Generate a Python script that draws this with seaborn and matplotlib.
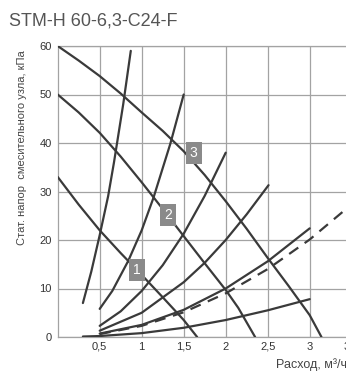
import matplotlib
matplotlib.use("Agg")
import matplotlib.pyplot as plt
import seaborn as sns

# ---- data ----
title = "STM-H 60-6,3-C24-F"
y_label = "Стат. напор  смесительного узла, кПа"
x_label = "Расход, м³/ч"

x_ticks = [0.5, 1.0, 1.5, 2.0, 2.5, 3.0, 3.5]
x_tick_labels = ["0,5", "1", "1,5", "2", "2,5", "3", "3,5"]
y_ticks = [0, 10, 20, 30, 40, 50, 60]

# pump curves (decreasing)
pump1_x = [0, 0.25, 0.5, 0.75, 1.0, 1.25, 1.5, 1.66]
pump1_y = [33, 27.3, 22, 17.3, 12.8, 8.2, 3.5, 0]
pump2_x = [0, 0.25, 0.5, 0.75, 1.0, 1.25, 1.5, 1.75, 2.0, 2.15, 2.35]
pump2_y = [50, 46.3, 42.1, 37.2, 31.9, 26.4, 20.8, 15.2, 9.7, 6.0, 0]
pump3_x = [0, 0.25, 0.5, 0.75, 1.0, 1.25, 1.5, 1.75, 2.0, 2.25, 2.5, 2.75, 3.0, 3.14]
pump3_y = [60, 57.0, 53.8, 50.2, 46.3, 42.5, 38.3, 33.4, 28.0, 22.3, 16.3, 10.5, 4.5, 0]

# system resistance curves (increasing)
sysA_x = [0.3, 0.4, 0.5, 0.6, 0.67, 0.78, 0.87]
sysA_y = [7, 13.5, 21.0, 29.0, 36.0, 48.0, 59]
sysB_x = [0.5, 0.65, 0.84, 1.0, 1.14, 1.34, 1.5]
sysB_y = [5.8, 9.5, 15.7, 22.0, 28.7, 39.8, 50]
sysC_x = [0.5, 0.75, 1.0, 1.25, 1.5, 1.75, 2.0]
sysC_y = [2.3, 5.3, 9.5, 14.8, 21.3, 29.1, 38]
sysD_x = [0.5, 1.0, 1.5, 1.75, 2.0, 2.25, 2.51]
sysD_y = [1.3, 5.0, 11.3, 15.3, 20.0, 25.3, 31.3]
sysE_x = [0.5, 1.0, 1.5, 2.0, 2.5, 3.0]
sysE_y = [0.7, 2.5, 5.6, 10.0, 15.6, 22.4]
sysF_x = [0.3, 0.5, 1.0, 1.5, 2.0, 2.5, 3.0]
sysF_y = [0.1, 0.2, 0.8, 1.9, 3.5, 5.5, 7.8]
dash_x = [0.5, 1.0, 1.5, 2.0, 2.5, 3.0, 3.42, 3.5]
dash_y = [0.6, 2.3, 5.1, 9.0, 14.0, 20.1, 26.2, 27.4]

labels = ["1", "2", "3"]
label_x = [0.94, 1.31, 1.62]
label_y = [13.8, 25.2, 38.0]

# ---- drawing ----
sns.set_theme(style="white")
plt.rcParams["font.family"] = ["Liberation Sans", "DejaVu Sans"]

W, H = 346, 372
fig = plt.figure(figsize=(W / 100, H / 100), dpi=100)
ax = fig.add_axes([57.7 / W, 1 - 337 / H, 294 / W, 291 / H])

line_col = "#3a3a3a"
grid_col = "#a3a3a3"
lw = 1.6

solid = [
    (pump1_x, pump1_y), (pump2_x, pump2_y), (pump3_x, pump3_y),
    (sysA_x, sysA_y), (sysB_x, sysB_y), (sysC_x, sysC_y),
    (sysD_x, sysD_y), (sysE_x, sysE_y), (sysF_x, sysF_y),
]
for xs, ys in solid:
    sns.lineplot(x=xs, y=ys, ax=ax, color=line_col, linewidth=lw,
                 sort=False, estimator=None, zorder=3)
sns.lineplot(x=dash_x, y=dash_y, ax=ax, color=line_col, linewidth=lw,
             sort=False, estimator=None, zorder=3)
ax.lines[-1].set_dashes((5, 3.5))

for t, lx, ly in zip(labels, label_x, label_y):
    ax.text(lx, ly, t, ha="center", va="center", color="white", fontsize=10,
            zorder=5,
            bbox=dict(boxstyle="square,pad=0.3", facecolor="#8a8a8a",
                      edgecolor="none"))

ax.set_xlim(0, 3.5)
ax.set_ylim(0, 60)
ax.set_xticks(x_ticks)
ax.set_xticklabels(x_tick_labels)
ax.set_yticks(y_ticks)
ax.set_yticklabels([str(v) for v in y_ticks])
ax.tick_params(axis="both", length=0, labelsize=8, labelcolor="#333333")
ax.tick_params(axis="y", pad=4.2)
ax.tick_params(axis="x", pad=3.5)
ax.grid(True, color=grid_col, linewidth=0.9)
ax.set_axisbelow(True)
for s in ax.spines.values():
    s.set_color(grid_col)
    s.set_linewidth(0.9)
ax.set_xlabel("")
ax.set_ylabel("")

fig.text(9 / W, 1 - 25 / H, title, ha="left", va="baseline",
         fontsize=13, color="#555555")
fig.text(22 / W, 1 - 148 / H, y_label, rotation=90, ha="center",
         va="center", fontsize=8, color="#444444")
fig.text(275.7 / W, 1 - 365 / H, x_label, ha="left", va="center",
         fontsize=9, color="#444444")

fig.savefig("out.png", dpi=100)
